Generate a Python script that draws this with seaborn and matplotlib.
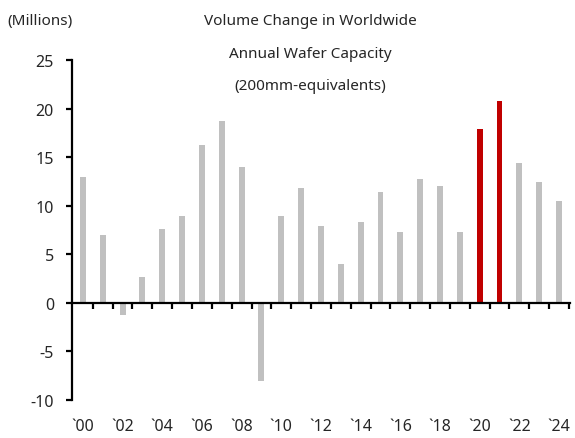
import seaborn as sns
import matplotlib.pyplot as plt
import matplotlib.transforms as mtransforms
import pandas as pd

years = list(range(2000, 2025))
values = [13.0, 7.0, -1.3, 2.7, 7.6, 8.9, 16.3, 18.7, 14.0, -8.0,
          8.9, 11.8, 7.9, 4.0, 8.3, 11.4, 7.3, 12.8, 12.0, 7.3,
          17.9, 20.8, 14.4, 12.4, 10.5]
highlight = [2020, 2021]
tick_years = list(range(2000, 2025, 2))

df = pd.DataFrame({'year': [str(y) for y in years], 'value': values})
colors = ['#C00000' if y in highlight else '#C0C0C0' for y in years]

sns.set_style('white')
plt.rcParams['font.family'] = ['Noto Sans', 'DejaVu Sans']
plt.rcParams['axes.unicode_minus'] = False

fig = plt.figure(figsize=(5.75, 4.39), dpi=100)
ax = fig.add_axes([0.1252, 0.0866, 0.866, 0.7744])

sns.barplot(data=df, x='year', y='value', hue='year', palette=colors, dodge=False,
            width=0.3, legend=False, ax=ax, saturation=1, linewidth=0)

ax.set_ylim(-10, 25)
ax.set_yticks(range(-10, 26, 5))
ax.set_xlim(-0.55, len(years) - 0.45)
ax.set_xlabel('')
ax.set_ylabel('')

for s in ['top', 'right']:
    ax.spines[s].set_visible(False)
ax.spines['bottom'].set_position(('data', 0))
for s in ['left', 'bottom']:
    ax.spines[s].set_color('black')
    ax.spines[s].set_linewidth(1.6)

ax.set_xticks([i + 0.5 for i in range(len(years))])
ax.set_xticklabels([])
ax.tick_params(axis='x', direction='out', length=4, width=1.6, color='black', bottom=True)
ax.tick_params(axis='y', direction='out', length=4, width=1.6, color='black', left=True,
               labelsize=11.5, pad=9)

trans = mtransforms.blended_transform_factory(ax.transData, ax.transAxes)
for y in tick_years:
    ax.text(years.index(y), -0.078, '`' + str(y)[2:], transform=trans,
            ha='center', va='center', fontsize=11.5)

fig.text(0.539, 0.95, 'Volume Change in Worldwide', ha='center', va='center', fontsize=11)
fig.text(0.539, 0.875, 'Annual Wafer Capacity', ha='center', va='center', fontsize=11)
fig.text(0.539, 0.802, '(200mm-equivalents)', ha='center', va='center', fontsize=11)
fig.text(0.012, 0.95, '(Millions)', ha='left', va='center', fontsize=11)

fig.savefig('out.png', dpi=100)
